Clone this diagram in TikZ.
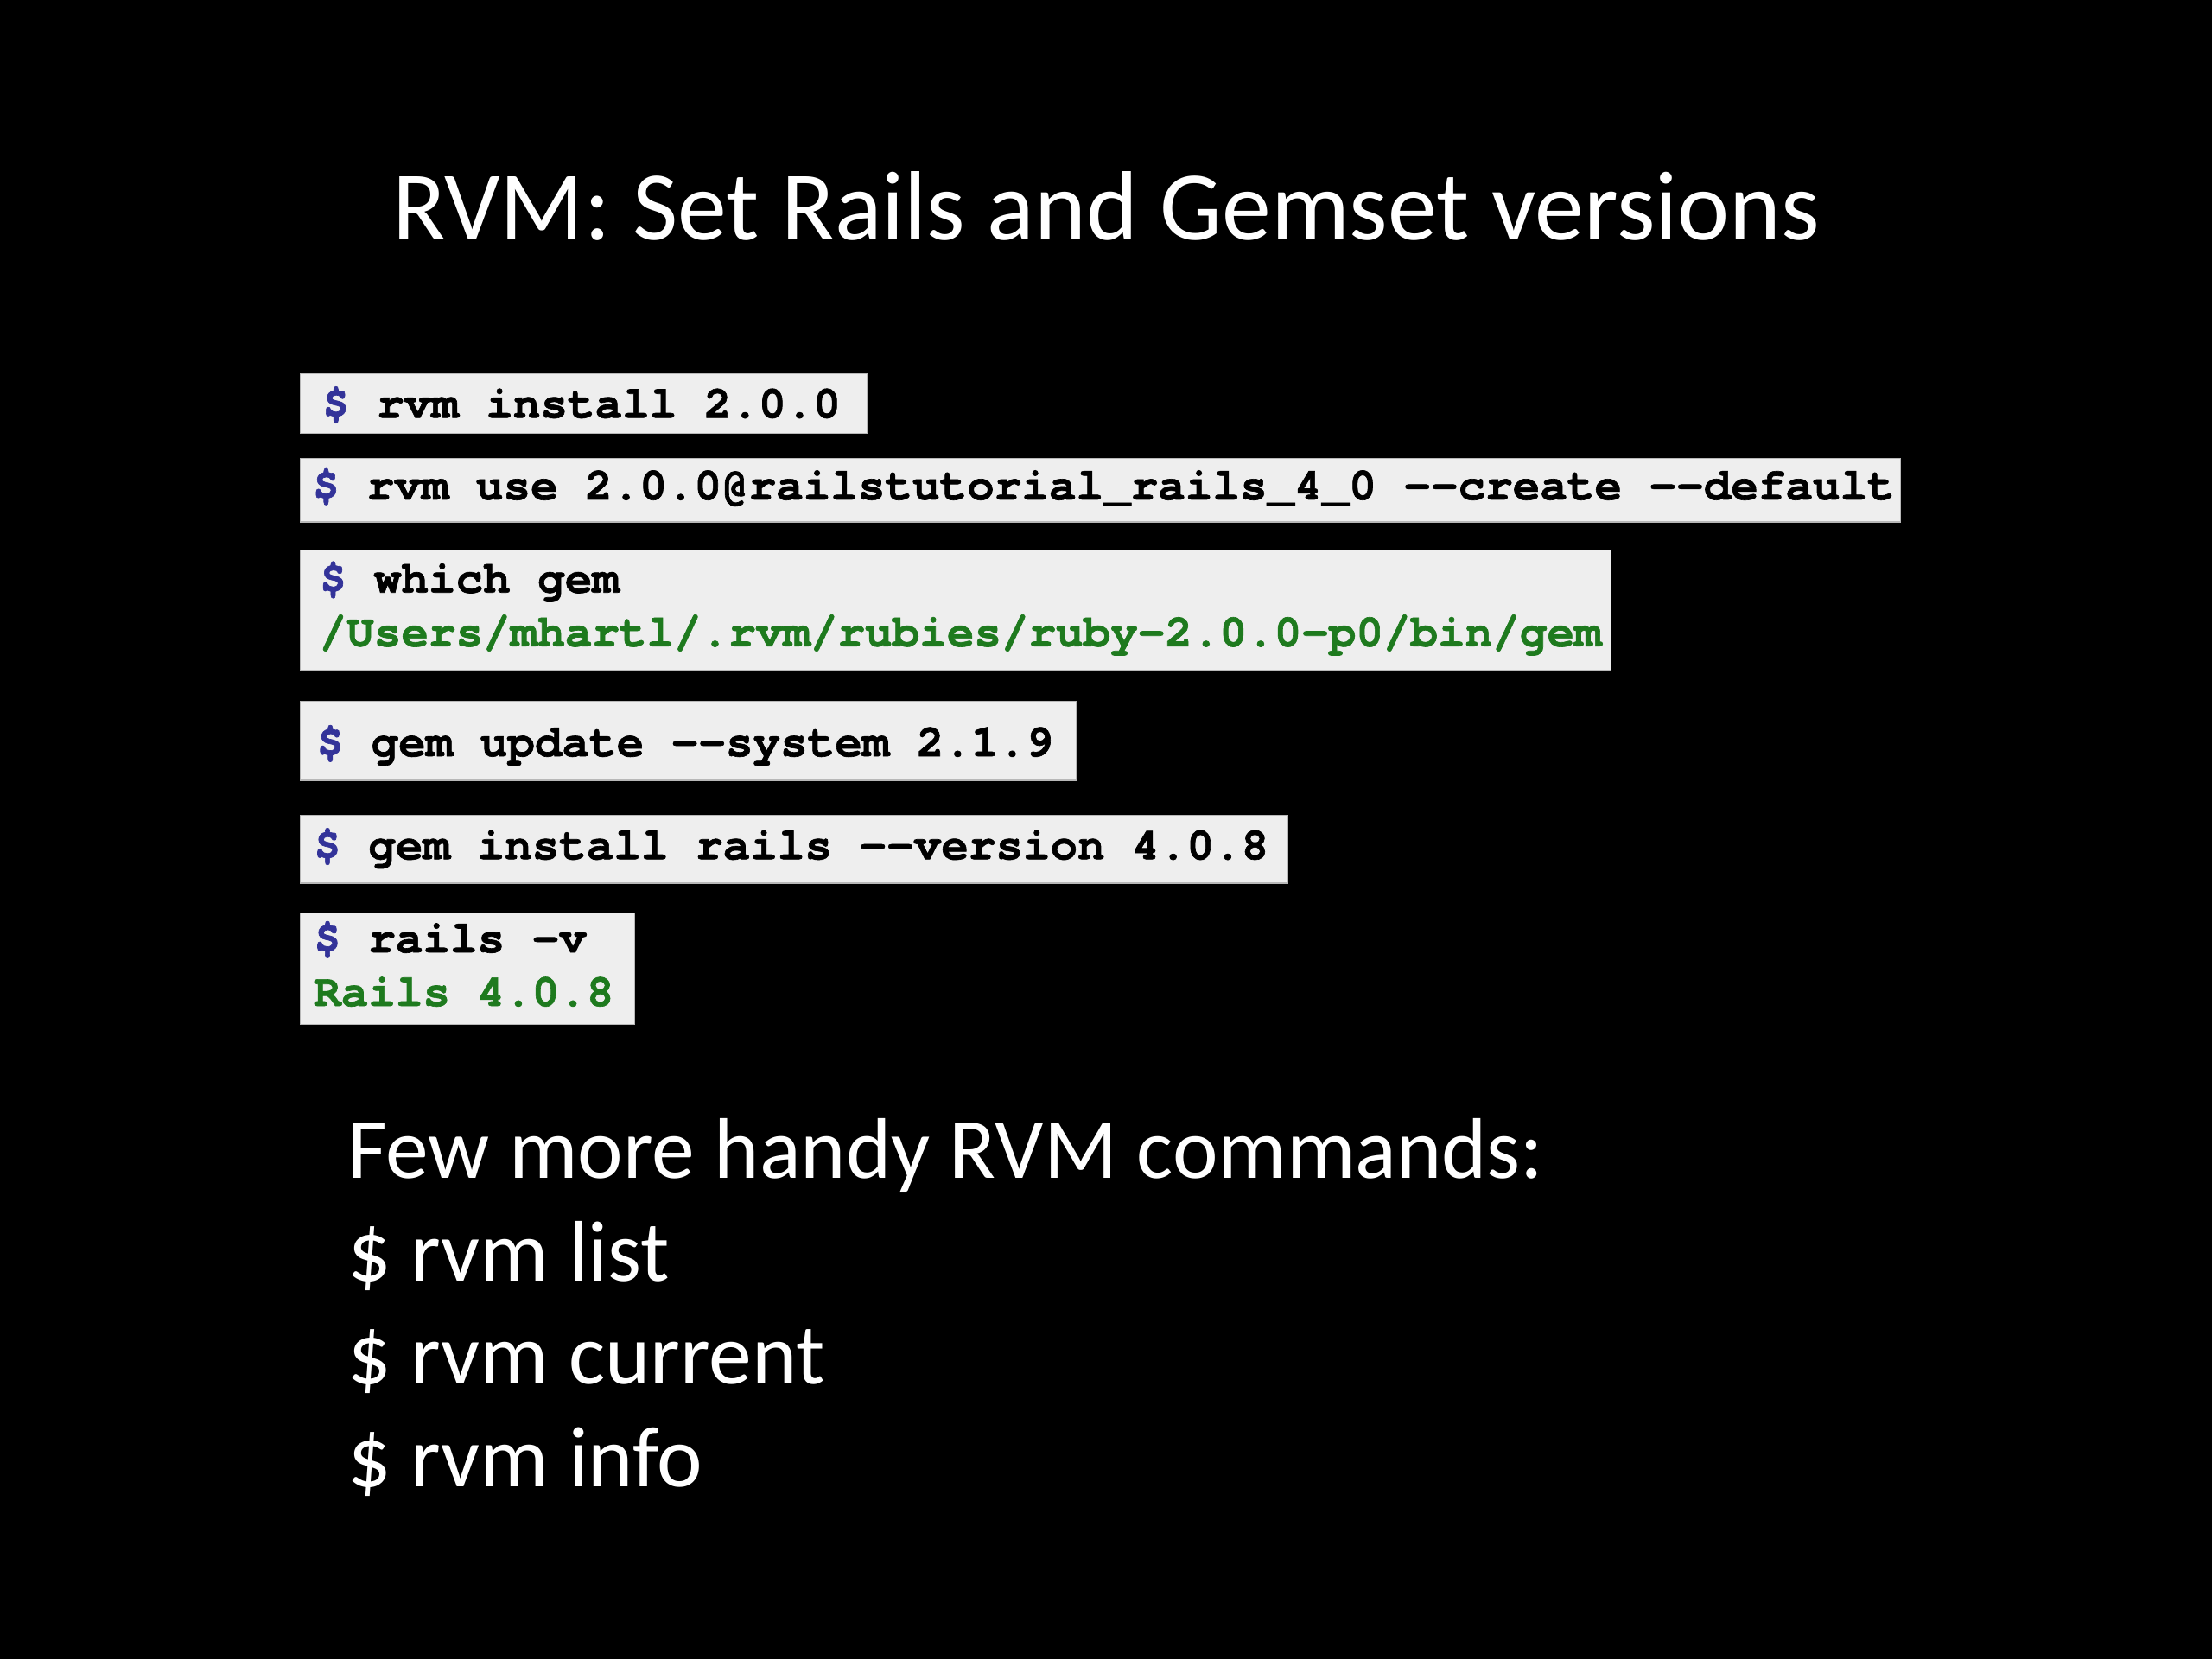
\documentclass[tikz,border=0pt]{standalone}
\usepackage{fontspec}
\setmainfont{Carlito}
\newfontfamily\codefont{TeX Gyre Cursor}[BoldFeatures={FakeBold=1.2}]
\definecolor{boxfill}{HTML}{EEEEEE}
\definecolor{boxline}{HTML}{B8B8B8}
\definecolor{promptc}{HTML}{333399}
\definecolor{outc}{HTML}{1E7A1E}
\begin{document}
\begin{tikzpicture}[x=0.4592pt,y=-0.4592pt,
  codebox/.style={fill=boxfill,draw=boxline,line width=0.4pt},
  code/.style={anchor=base west,inner sep=0pt,font=\codefont\bfseries\fontsize{14.8}{17}\selectfont,text=black},
  body/.style={anchor=base west,inner sep=0pt,text=white,font=\fontsize{28}{33}\selectfont}]
\fill[black] (0,0) rectangle (1568,1176);
\useasboundingbox (0,0) rectangle (1568,1176);
\node[anchor=base,inner sep=0pt,text=white,font=\fontsize{32}{38}\selectfont] (title) at (784,170) {RVM: Set Rails and Gemset versions};
% boxes
\draw[codebox] (213,265) rectangle (615,307);
\draw[codebox] (213,325) rectangle (1347,370);
\draw[codebox] (213,390) rectangle (1142,475);
\draw[codebox] (213,497) rectangle (763,553);
\draw[codebox] (213,578) rectangle (913,626);
\draw[codebox] (213,647) rectangle (450,726);
\node[code] (c1) at (228,296) {\textcolor{promptc}{\$} rvm install 2.0.0};
\node[code] (c2) at (221,354) {\textcolor{promptc}{\$} rvm use 2.0.0@railstutorial\_rails\_4\_0 --create --default};
\node[code] (c3) at (226,420) {\textcolor{promptc}{\$} which gem};
\node[code,text=outc] (c3o) at (226,458) {/Users/mhartl/.rvm/rubies/ruby-2.0.0-p0/bin/gem};
\node[code] (c4) at (224,536) {\textcolor{promptc}{\$} gem update --system 2.1.9};
\node[code] (c5) at (222,609) {\textcolor{promptc}{\$} gem install rails --version 4.0.8};
\node[code] (c6) at (222,675) {\textcolor{promptc}{\$} rails -v};
\node[code,text=outc] (c6o) at (222,713) {Rails 4.0.8};
% bottom text
\node[body] (b1) at (246,835) {Few more handy RVM commands:};
\node[body] (b2) at (246,908) {\$ rvm list};
\node[body] (b3) at (246,981) {\$ rvm current};
\node[body] (b4) at (246,1054) {\$ rvm info};
\end{tikzpicture}
\end{document}
